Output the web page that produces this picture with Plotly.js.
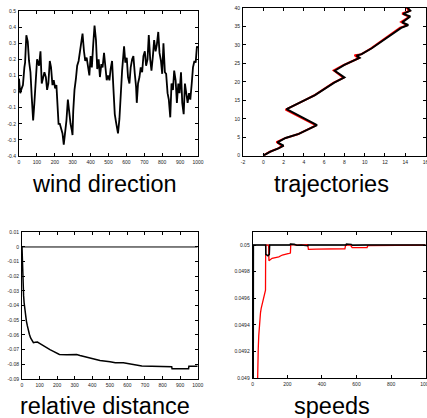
<!DOCTYPE html>
<html>
<head>
<meta charset="utf-8">
<script src="https://cdn.plot.ly/plotly-3.0.1.min.js"></script>
<style>html,body{margin:0;padding:0;background:#fff;}#chart{width:427px;height:418px;}</style>
</head>
<body>
<div id="chart"></div>
<script>
// ---- wind direction ----
const windX = [0,7,15,22,30,34,41,49,56,64,71,79,86,93,101,112,120,127,135,142,150,157,164,172,179,187,194,202,209,221,228,236,243,250,258,265,273,280,288,295,299,303,310,318,325,333,340,348,355,363,370,378,385,393,400,407,415,422,430,437,445,452,460,467,475,482,490,497,505,512,520,527,535,542,550,553,561,568,576,587,594,602,609,617,624,632,639,647,654,658,665,673,680,688,695,703,710,718,725,733,740,748,755,763,770,778,785,793,800,807,815,822,830,837,845,852,860,867,875,882,890,897,905,912,920,927,935,942,950,957,965,972,980,987,994,1000];
const windY = [0.08,-0.01,0.02,0.04,0.15,0.18,0.35,0.31,0.19,0.12,-0.03,-0.18,-0.07,0.03,0.2,0.16,0.25,0.05,0.09,0.12,0.09,0.01,0.05,0.19,0.15,0.04,0.07,0.02,0.04,-0.2,-0.2,-0.24,-0.26,-0.33,-0.26,-0.18,-0.05,-0.13,-0.2,-0.24,-0.27,-0.12,0.01,0.08,0.16,0.19,0.25,0.3,0.36,0.25,0.19,0.21,0.15,0.1,0.22,0.15,0.3,0.41,0.32,0.14,0.2,0.09,0.17,0.15,0.24,0.13,0.07,0.1,0.07,0.14,0.19,0.03,-0.14,-0.19,-0.24,-0.26,-0.17,0.01,0.13,0.28,0.18,0.21,0.09,0.05,0.15,0.2,0.22,0.11,0.03,-0.07,0.05,0.09,0.15,0.12,0.22,0.25,0.16,0.2,0.35,0.2,0.13,0.22,0.32,0.25,0.29,0.37,0.24,0.19,0.11,0.3,0.12,0.11,-0.01,-0.05,-0.16,0.05,0.01,0.13,0.07,-0.07,0.05,-0.01,0.12,-0.07,-0.14,0.05,-0.03,-0.07,-0.01,-0.05,0.05,0.15,0.19,0.18,0.28,0.27];
const windYTicks = [-0.4,-0.3,-0.2,-0.1,0,0.1,0.2,0.3,0.4,0.5];
const windYText = ['-0.4','-0.3','-0.2','-0.1','0','0.1','0.2','0.3','0.4','0.5'];
const stepX1000 = [0,100,200,300,400,500,600,700,800,900,1000];

// ---- trajectories ----
const trajBlackX = [0,0.7,1.5,2.0,1.4,2.2,3.5,4.4,5.3,2.3,3.2,4.3,5.1,6.1,7.0,8.0,7.05,8.0,9.0,9.5,9.2,9.7,10.7,12.0,13.3,13.6,14.3,13.7,14.5,13.8,14.5,14.2];
const trajBlackY = [0,1.1,2.0,2.7,3.6,4.8,5.9,7.1,8.3,12.6,13.9,15.3,16.4,18.2,19.8,21.2,23.0,24.6,26.0,26.5,27.1,27.5,29.1,31.6,34.1,34.6,35.4,36.1,37.7,38.4,39.3,40.2];
const trajRedX = [0,0.6,1.4,1.9,1.3,2.1,3.4,4.3,5.2,2.2,3.1,4.2,5.0,6.0,6.9,7.9,6.95,7.9,8.9,9.4,9.0,9.6,10.6,11.9,13.1,13.5,14.2,13.6,14.4,13.7,14.4,14.1];
const trajRedY = [0,1.0,1.9,2.6,3.7,4.7,5.8,7.0,8.2,12.5,13.8,15.2,16.3,18.1,19.7,21.1,23.1,24.5,25.9,26.4,27.2,27.4,29.0,31.5,34.0,34.7,35.3,36.2,37.6,38.5,39.2,40.2];
const trajXTicks = [-2,0,2,4,6,8,10,12,14,16];
const trajXText = ['-2','0','2','4','6','8','10','12','14','16'];
const trajYTicks = [0,5,10,15,20,25,30,35,40];

// ---- relative distance ----
const relX = [0,3,6,9,12,16,20,25,30,36,42,49,57,65,75,88,100,116,131,145,159,173,188,200,213,254,311,330,368,406,444,501,531,577,615,672,682,852,854,948,950,1000];
const relY = [0,-0.016,-0.026,-0.033,-0.038,-0.043,-0.047,-0.0505,-0.0535,-0.057,-0.0595,-0.062,-0.064,-0.0652,-0.065,-0.0648,-0.0657,-0.067,-0.068,-0.069,-0.070,-0.0708,-0.0716,-0.0725,-0.0733,-0.0735,-0.0733,-0.074,-0.0753,-0.0765,-0.0774,-0.0783,-0.079,-0.079,-0.0797,-0.0806,-0.0812,-0.0817,-0.083,-0.083,-0.0813,-0.0813];
const relZeroX = [0,1000];
const relZeroY = [0,0];
const relYTicks = [-0.09,-0.08,-0.07,-0.06,-0.05,-0.04,-0.03,-0.02,-0.01,0,0.01];
const relYText = ['-0.09','-0.08','-0.07','-0.06','-0.05','-0.04','-0.03','-0.02','-0.01','0','0.01'];

// ---- speeds ----
const speedRedX = [27,28,32,35,38,41,45,49,53,57,62,67,73,74,75,92,94,112,151,171,210,218,220,260,318,322,367,406,533,537,565,575,661,665,760,847,1000];
const speedRedY = [0.0489,0.04915,0.04922,0.04932,0.04938,0.04945,0.04949,0.049525,0.04955,0.049575,0.04961,0.049637,0.049662,0.049662,0.05,0.05,0.049882,0.0499,0.049912,0.049925,0.049937,0.04994,0.050005,0.05,0.050003,0.049967,0.049969,0.04997,0.049972,0.05,0.05,0.04998,0.04998,0.049995,0.049995,0.05,0.05];
const speedBlackX = [0,3,4,75,76,88,96,98,215,218,240,255,280,300,318,320,540,542,570,575,650,1000];
const speedBlackY = [0.0488,0.0488,0.05,0.05,0.04993,0.04992,0.04993,0.05,0.05,0.050008,0.050005,0.049998,0.05,0.049995,0.049995,0.05,0.05,0.050008,0.050005,0.049998,0.05,0.05];
const speedRefX = [0,1000];
const speedRefY = [0.05,0.05];
const speedYTicks = [0.049,0.0492,0.0494,0.0496,0.0498,0.05];
const speedYText = ['0.049','0.0492','0.0494','0.0496','0.0498','0.05'];
const speedXTicks = [0,200,400,600,800,1000];

const panelTitles = ['wind direction','trajectories','relative distance','speeds'];

const W = 427, H = 418;
const px = (a,b) => [a/W, b/W];
const py = (top,bottom) => [1-bottom/H, 1-top/H];

const tickFont = {family:'Liberation Sans, Arial, sans-serif', size:5, color:'#222'};
function ax(domain, range, tickvals, ticktext, anchor){
  return {domain, range, tickvals, ticktext: ticktext || tickvals.map(String), anchor,
    ticks:'inside', ticklen:3, tickwidth:1, tickcolor:'#000', mirror:'ticks',
    showline:true, linecolor:'#000', linewidth:1, showgrid:false, zeroline:false,
    tickfont:tickFont, fixedrange:true, ticklabelstandoff:1, ticklabeloverflow:'allow'};
}

const traces = [
  {x:windX, y:windY, xaxis:'x', yaxis:'y', mode:'lines', line:{color:'#000', width:1.8}},
  {x:trajRedX, y:trajRedY, xaxis:'x2', yaxis:'y2', mode:'lines', line:{color:'#f00', width:2}},
  {x:trajBlackX, y:trajBlackY, xaxis:'x2', yaxis:'y2', mode:'lines', line:{color:'#000', width:2}},
  {x:relZeroX, y:relZeroY, xaxis:'x3', yaxis:'y3', mode:'lines', line:{color:'#000', width:1}},
  {x:relX, y:relY, xaxis:'x3', yaxis:'y3', mode:'lines', line:{color:'#000', width:1.5}},
  {x:speedRefX, y:speedRefY, xaxis:'x4', yaxis:'y4', mode:'lines', line:{color:'#444', width:1}},
  {x:speedRedX, y:speedRedY, xaxis:'x4', yaxis:'y4', mode:'lines', line:{color:'#f00', width:1.3}},
  {x:speedBlackX, y:speedBlackY, xaxis:'x4', yaxis:'y4', mode:'lines', line:{color:'#000', width:1.5}}
];

const titleFont = {family:'Liberation Sans, Arial, sans-serif', size:23.5, color:'#000'};
const layout = {
  width:W, height:H, margin:{l:0,r:0,t:0,b:0}, showlegend:false,
  paper_bgcolor:'#fff', plot_bgcolor:'#fff',
  xaxis: ax(px(19,198), [0,1000], stepX1000, null, 'y'),
  yaxis: ax(py(11,156), [-0.4,0.5], windYTicks, windYText, 'x'),
  xaxis2: ax(px(243,425.5), [-2,16], trajXTicks, trajXText, 'y2'),
  yaxis2: ax(py(8,155.7), [0,40], trajYTicks, null, 'x2'),
  xaxis3: ax(px(22,197.7), [0,1000], stepX1000, null, 'y3'),
  yaxis3: ax(py(232.3,379), [-0.09,0.01], relYTicks, relYText, 'x3'),
  xaxis4: ax(px(252.7,425.7), [0,1000], speedXTicks, null, 'y4'),
  yaxis4: ax(py(231.7,378.3), [0.049,0.0501], speedYTicks, speedYText, 'x4'),
  annotations: [
    {text:panelTitles[0], x:104.5/W, y:1-183.6/H},
    {text:panelTitles[1], x:331/W, y:1-183.6/H},
    {text:panelTitles[2], x:105/W, y:1-405.5/H},
    {text:panelTitles[3], x:332/W, y:1-405.5/H}
  ].map(a => Object.assign({xref:'paper', yref:'paper', showarrow:false, xanchor:'center', yanchor:'middle', borderpad:0, font:titleFont}, a))
};

Plotly.newPlot('chart', traces, layout, {staticPlot:true, displayModeBar:false});
</script>
</body>
</html>
